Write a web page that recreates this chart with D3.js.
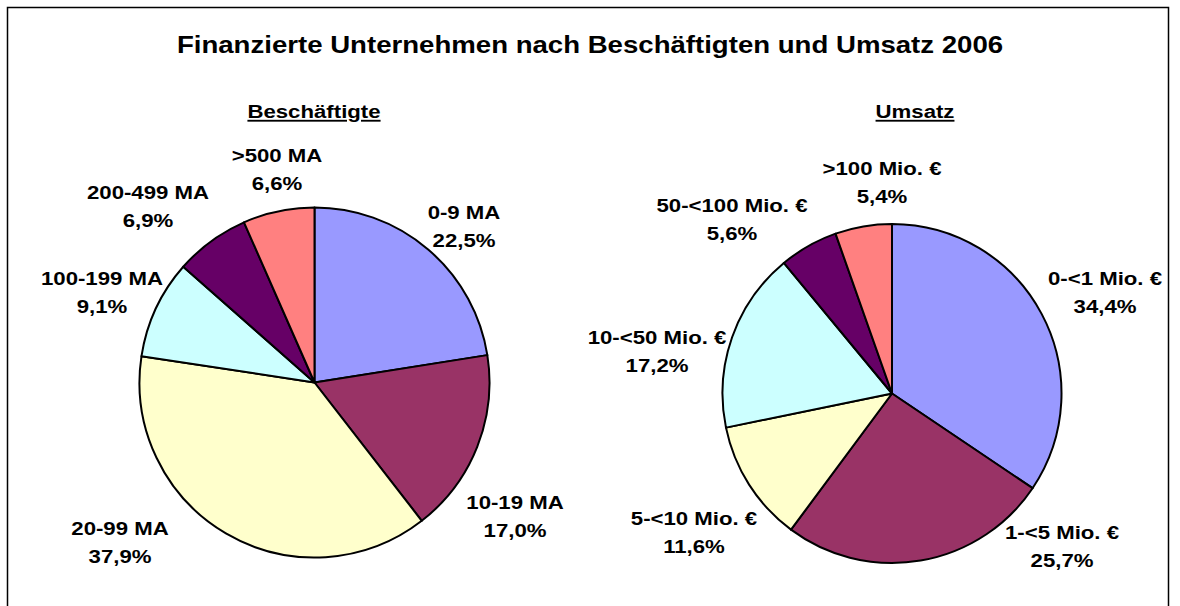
<!DOCTYPE html>
<html>
<head>
<meta charset="utf-8">
<script src="https://cdn.jsdelivr.net/npm/d3@7"></script>
<style>
  body { margin: 0; background: #fff; }
  text { font-family: "Liberation Sans", Arial, sans-serif; font-weight: bold; fill: #000; }
</style>
</head>
<body>
<script>
'use strict';

// Beschäftigte
var empCategories = ["0-9 MA", "10-19 MA", "20-99 MA", "100-199 MA", "200-499 MA", ">500 MA"];
var empValues = [22.5, 17.0, 37.9, 9.1, 6.9, 6.6];

// Umsatz
var revCategories = ["0-<1 Mio. €", "1-<5 Mio. €", "5-<10 Mio. €", "10-<50 Mio. €", "50-<100 Mio. €", ">100 Mio. €"];
var revValues = [34.4, 25.7, 11.6, 17.2, 5.6, 5.4];

var sliceColors = ["#9999FF", "#993366", "#FFFFCC", "#CCFFFF", "#660066", "#FF8080"];

(function() {

  var width = 1180;
  var height = 606;
  var stretch = 1.2;   // text in the original is a bit wider than plain Arial

  var svg = d3.select("body")
      .append("svg")
      .attr("width", width)
      .attr("height", height);

  // outer frame
  svg.append("rect")
      .attr("x", 7.5)
      .attr("y", 7.5)
      .attr("width", 1161)
      .attr("height", 620)
      .attr("fill", "none")
      .attr("stroke", "#000")
      .attr("stroke-width", 1.5);

  svg.append("text")
      .attr("transform", "translate(590,53) scale(" + stretch + ",1)")
      .attr("text-anchor", "middle")
      .style("font-size", "23px")
      .text("Finanzierte Unternehmen nach Beschäftigten und Umsatz 2006");

  var color = d3.scaleOrdinal().range(sliceColors);

  var pie = d3.pie()
      .sort(null)
      .value(function(d) { return d.value; });

  var fmt = function(v) { return d3.format(".1f")(v).replace(".", ",") + "%"; };

  function drawPie(opts) {
    var data = opts.categories.map(function(c, i) {
      return { name: c, value: opts.values[i] };
    });
    color.domain(opts.categories);

    var g = svg.append("g")
        .attr("transform", "translate(" + opts.cx + "," + opts.cy + ")");

    var arc = d3.arc().innerRadius(0).outerRadius(opts.r);

    g.selectAll("path")
        .data(pie(data))
        .enter()
        .append("path")
        .attr("d", arc)
        .attr("fill", function(d) { return color(d.data.name); })
        .attr("stroke", "#000")
        .attr("stroke-width", 2)
        .attr("stroke-linejoin", "round");

    svg.append("text")
        .attr("transform", "translate(" + opts.titleX + ",118) scale(" + stretch + ",1)")
        .attr("text-anchor", "middle")
        .attr("text-decoration", "underline")
        .style("font-size", "18.5px")
        .text(opts.title);

    // label anchors = baseline of the first line
    var lab = svg.append("g").selectAll("text")
        .data(pie(data))
        .enter()
        .append("text")
        .attr("text-anchor", "middle")
        .style("font-size", "18.5px")
        .attr("transform", function(d, i) {
          return "translate(" + opts.labels[i][0] + "," + opts.labels[i][1] + ") scale(" + stretch + ",1)";
        });
    lab.append("tspan")
        .attr("x", 0)
        .attr("y", 0)
        .text(function(d) { return d.data.name; });
    lab.append("tspan")
        .attr("x", 0)
        .attr("y", 28)
        .text(function(d) { return fmt(d.data.value); });
  }

  drawPie({
    title: "Beschäftigte",
    categories: empCategories,
    values: empValues,
    cx: 314.5, cy: 382.5, r: 175, titleX: 314,
    labels: [[464, 219], [515, 509], [120, 535], [102, 285], [148, 199], [277, 162]]
  });

  drawPie({
    title: "Umsatz",
    categories: revCategories,
    values: revValues,
    cx: 892, cy: 393.5, r: 169.5, titleX: 915,
    labels: [[1105, 285], [1062, 539], [694, 525], [657, 344], [732, 212], [882, 175]]
  });

})();
</script>
</body>
</html>
